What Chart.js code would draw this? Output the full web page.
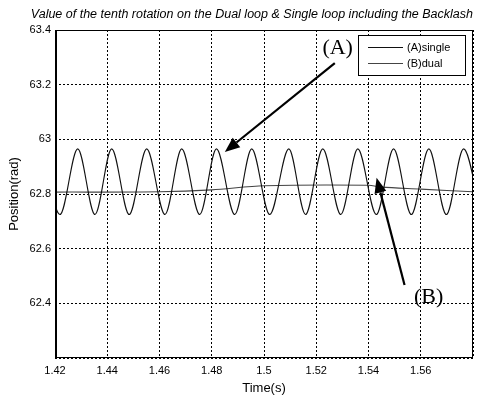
<!DOCTYPE html>
<html>
<head>
<meta charset="utf-8">
<script src="https://cdn.jsdelivr.net/npm/chart.js@4/dist/chart.umd.min.js"></script>
<style>
    html, body { margin: 0; padding: 0; background: #fff; }
    #posChart { display: block; }
</style>
</head>
<body>
<canvas id="posChart" width="489" height="397"></canvas>
<script>
// ========== 数据 ==========
const titleText = 'Value of the tenth rotation on the Dual loop & Single loop including the Backlash';
const xTicks = [1.42, 1.44, 1.46, 1.48, 1.5, 1.52, 1.54, 1.56, 1.58];
const yTicks = [62.2, 62.4, 62.6, 62.8, 63, 63.2, 63.4];

// (A)single - 振荡曲线的峰/谷点
const singleTime = [1.4152, 1.4219, 1.4287, 1.4353, 1.4417, 1.4484, 1.4551, 1.4621, 1.4685, 1.4754,
    1.4818, 1.4888, 1.4953, 1.5022, 1.5095, 1.5159, 1.5225, 1.5294, 1.5359, 1.5430,
    1.5496, 1.5564, 1.5631, 1.5698, 1.5764, 1.5831];
const singlePos = [62.965, 62.725, 62.965, 62.725, 62.965, 62.725, 62.965, 62.725, 62.965, 62.725,
    62.965, 62.725, 62.965, 62.725, 62.965, 62.725, 62.965, 62.725, 62.965, 62.725,
    62.965, 62.725, 62.965, 62.725, 62.965, 62.725];

// (B)dual
const dualTime = [1.42, 1.46, 1.48, 1.50, 1.54, 1.545, 1.56, 1.58];
const dualPos = [62.807, 62.808, 62.815, 62.830, 62.832, 62.825, 62.818, 62.808];

// 箭头标注 (数据坐标)
const arrowA = { from: [1.5271, 63.279], to: [1.485, 62.954], label: '(A)', at: [1.5282, 63.334] };
const arrowB = { from: [1.5538, 62.467], to: [1.5431, 62.859], label: '(B)', at: [1.563, 62.423] };

const FONT = '"Liberation Sans", Arial, sans-serif';

function toPoints(xs, ys) {
    return xs.map((x, i) => ({ x: x, y: ys[i] }));
}

// ========== 边框 + 图例 + 箭头 ==========
const decorPlugin = {
    id: 'decor',
    afterDraw(chart) {
        const ctx = chart.ctx;
        const a = chart.chartArea;
        const xs = chart.scales.x, ys = chart.scales.y;

        ctx.save();
        // 外框
        ctx.strokeStyle = '#000';
        ctx.lineWidth = 1;
        ctx.strokeRect(a.left + 0.5, a.top + 0.5, a.right - a.left - 1, a.bottom - a.top - 1);
        ctx.lineWidth = 2;
        ctx.beginPath();
        ctx.moveTo(a.left + 1, a.top);
        ctx.lineTo(a.left + 1, a.bottom);
        ctx.stroke();

        // 图例
        const lx = 358, ly = 35, lw = 107, lh = 40;
        ctx.fillStyle = '#fff';
        ctx.fillRect(lx, ly, lw, lh);
        ctx.lineWidth = 1;
        ctx.strokeStyle = '#000';
        ctx.strokeRect(lx + 0.5, ly + 0.5, lw, lh);
        chart.data.datasets.forEach((ds, i) => {
            const yy = ly + 12.5 + i * 16;
            ctx.strokeStyle = ds.borderColor;
            ctx.lineWidth = 1;
            ctx.beginPath();
            ctx.moveTo(lx + 10, yy);
            ctx.lineTo(lx + 45, yy);
            ctx.stroke();
            ctx.fillStyle = '#000';
            ctx.font = '11px ' + FONT;
            ctx.textBaseline = 'middle';
            ctx.textAlign = 'left';
            ctx.fillText(ds.label, lx + 49, yy);
        });

        // 箭头
        [arrowA, arrowB].forEach(ar => {
            const x1 = xs.getPixelForValue(ar.from[0]), y1 = ys.getPixelForValue(ar.from[1]);
            const x2 = xs.getPixelForValue(ar.to[0]), y2 = ys.getPixelForValue(ar.to[1]);
            const ang = Math.atan2(y2 - y1, x2 - x1);
            const hl = 15, hw = 6;
            const bx = x2 - hl * Math.cos(ang), by = y2 - hl * Math.sin(ang);
            ctx.strokeStyle = '#000';
            ctx.lineWidth = 2.2;
            ctx.beginPath();
            ctx.moveTo(x1, y1);
            ctx.lineTo(bx, by);
            ctx.stroke();
            ctx.fillStyle = '#000';
            ctx.beginPath();
            ctx.moveTo(x2, y2);
            ctx.lineTo(bx + hw * Math.sin(ang), by - hw * Math.cos(ang));
            ctx.lineTo(bx - hw * Math.sin(ang), by + hw * Math.cos(ang));
            ctx.closePath();
            ctx.fill();

            ctx.font = '22px "Liberation Serif", "DejaVu Serif", serif';
            ctx.textAlign = 'center';
            ctx.textBaseline = 'middle';
            ctx.fillText(ar.label, xs.getPixelForValue(ar.at[0]), ys.getPixelForValue(ar.at[1]));
        });
        ctx.restore();
    }
};

function initPositionChart() {
    const ctx = document.getElementById('posChart').getContext('2d');
    const grid = {
        color: '#000',
        lineWidth: 1,
        drawTicks: false
    };

    new Chart(ctx, {
        type: 'line',
        data: {
            datasets: [
                {
                    label: '(A)single',
                    data: toPoints(singleTime, singlePos),
                    borderColor: '#111',
                    borderWidth: 1.1,
                    pointRadius: 0,
                    cubicInterpolationMode: 'monotone'
                },
                {
                    label: '(B)dual',
                    data: toPoints(dualTime, dualPos),
                    borderColor: '#444',
                    borderWidth: 1.1,
                    pointRadius: 0,
                    tension: 0.3
                }
            ]
        },
        options: {
            responsive: false,
            animation: false,
            layout: { padding: { top: 0, right: 16, bottom: 0, left: 0 } },
            scales: {
                x: {
                    type: 'linear',
                    min: 1.42,
                    max: 1.58,
                    afterBuildTicks: s => { s.ticks = xTicks.map(v => ({ value: v })); },
                    afterFit: s => { s.height = 39; },
                    grid: grid,
                    border: { display: false, dash: [2, 2] },
                    ticks: {
                        color: '#000',
                        padding: 6,
                        maxRotation: 0,
                        font: { family: FONT, size: 11 },
                        callback: v => (v === 1.58 ? '' : String(+v.toFixed(2)))
                    },
                    title: {
                        display: true,
                        text: 'Time(s)',
                        color: '#000',
                        padding: { top: 0, bottom: 1 },
                        font: { family: FONT, size: 13 }
                    }
                },
                y: {
                    min: 62.2,
                    max: 63.4,
                    afterBuildTicks: s => { s.ticks = yTicks.map(v => ({ value: v })); },
                    afterFit: s => { s.width = 55; },
                    grid: grid,
                    border: { display: false, dash: [2, 2] },
                    ticks: {
                        color: '#000',
                        padding: 4,
                        font: { family: FONT, size: 11 },
                        callback: v => (v === 62.2 ? '' : String(+v.toFixed(1)))
                    },
                    title: {
                        display: true,
                        text: 'Position(rad)',
                        color: '#000',
                        padding: { top: 7, bottom: 0 },
                        font: { family: FONT, size: 13 }
                    }
                }
            },
            plugins: {
                legend: { display: false },
                tooltip: { enabled: false },
                title: {
                    display: true,
                    text: titleText,
                    color: '#000',
                    align: 'end',
                    padding: { top: 7, bottom: 8 },
                    font: { family: FONT, size: 12.5, style: 'italic', weight: 'normal' }
                }
            }
        },
        plugins: [decorPlugin]
    });
}

initPositionChart();
</script>
</body>
</html>
